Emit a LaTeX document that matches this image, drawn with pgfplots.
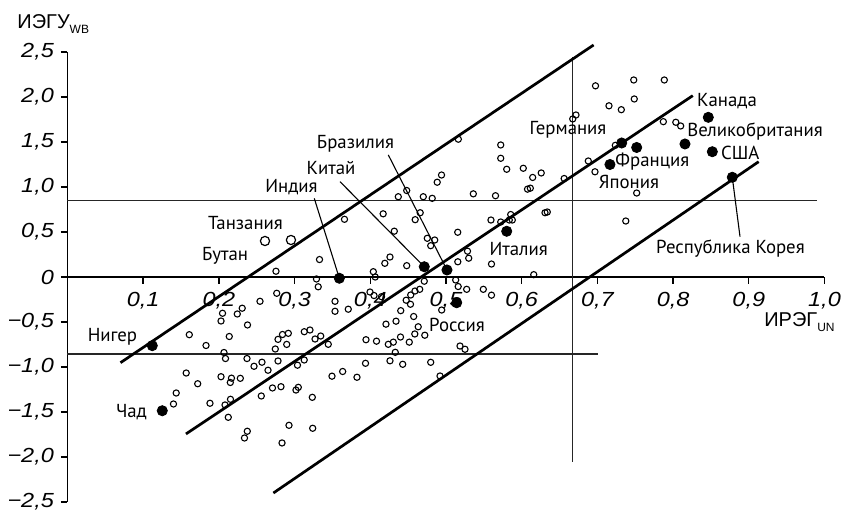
\documentclass[border=0pt]{standalone}
\usepackage{pgfplots}
\pgfplotsset{compat=1.18}
\usepackage{fontspec}
\setmainfont{PT Sans}
\newfontfamily\tickfont{Liberation Sans}[FakeStretch=1.15]
\newfontfamily\axfont{Liberation Sans}
\pgfplotstableread{
x y
0.3234 -1.337
0.3239 -1.681
0.2926 -1.648
0.2834 -1.844
0.2375 -1.714
0.2338 -1.789
0.3018 -1.256
0.3049 -1.226
0.2820 -1.219
0.2708 -1.233
0.2560 -1.322
0.2124 -1.559
0.2081 -1.422
0.2153 -1.359
0.2151 -1.172
0.2028 -1.108
0.2166 -1.124
0.2283 -1.126
0.1882 -1.403
0.1720 -1.186
0.1568 -1.067
0.1436 -1.289
0.1400 -1.411
0.3038 -0.980
0.3127 -0.922
0.2464 -0.992
0.2569 -0.947
0.2649 -1.036
0.2781 -0.933
0.2371 -0.906
0.2087 -0.906
0.2067 -0.839
0.1830 -0.761
0.1609 -0.641
0.2137 -0.661
0.2378 -0.533
0.2028 -0.489
0.2048 -0.403
0.2243 -0.411
0.2308 -0.347
0.2543 -0.270
0.2745 -0.800
0.2781 -0.693
0.2840 -0.639
0.2917 -0.626
0.2896 -0.749
0.3128 -0.608
0.3203 -0.589
0.3270 -0.689
0.3345 -0.656
0.3445 -0.748
0.6975 2.124
0.7480 2.189
0.7884 2.189
0.7487 1.978
0.7153 1.902
0.7316 1.859
0.6674 1.756
0.6717 1.800
0.7871 1.726
0.8036 1.719
0.8100 1.678
0.7237 1.463
0.6880 1.289
0.6968 1.169
0.6561 1.094
0.7519 0.933
0.7375 0.622
0.6021 1.208
0.6145 1.106
0.6258 1.156
0.6077 0.976
0.6114 0.987
0.6308 0.714
0.6338 0.722
0.5163 1.531
0.5723 1.467
0.5723 1.319
0.5802 1.197
0.4941 1.133
0.4884 1.053
0.4481 0.961
0.4370 0.892
0.4700 0.892
0.4818 0.874
0.5361 0.924
0.5654 0.903
0.3659 0.641
0.4170 0.702
0.4659 0.714
0.4593 0.637
0.4317 0.509
0.4753 0.430
0.4851 0.411
0.4798 0.348
0.5155 0.497
0.5594 0.633
0.5723 0.611
0.5836 0.633
0.5876 0.633
0.5855 0.694
0.5284 0.287
0.5300 0.209
0.5156 0.169
0.5601 0.144
0.3329 0.194
0.4260 0.222
0.4192 0.152
0.4481 0.126
0.4040 0.059
0.4065 0.000
0.3289 -0.022
0.3312 -0.109
0.4713 -0.047
0.5128 -0.033
0.5161 -0.106
0.5273 -0.137
0.5493 -0.137
0.5601 -0.202
0.6159 0.026
0.2754 0.064
0.2764 -0.181
0.3534 -0.270
0.3534 -0.381
0.3709 -0.358
0.3996 -0.167
0.4049 -0.206
0.4148 -0.219
0.4534 -0.200
0.4590 -0.156
0.4653 -0.137
0.4474 -0.258
0.4531 -0.303
0.4402 -0.374
0.4573 -0.439
0.4340 -0.491
0.4207 -0.524
0.4633 -0.553
0.4588 -0.633
0.4720 -0.647
0.4399 -0.667
0.4304 -0.724
0.4238 -0.748
0.4515 -0.724
0.4082 -0.713
0.3943 -0.697
0.4330 -0.837
0.4943 -0.367
0.5185 -0.767
0.5251 -0.803
0.3937 -0.959
0.4260 -0.931
0.4428 -0.970
0.4798 -0.948
0.3635 -1.050
0.3494 -1.102
0.3824 -1.114
0.4921 -1.100
}\opendata
\pgfplotstableread{
x y
0.2609 0.400
0.2952 0.411
}\bigopen
\pgfplotstableread{
x y
0.1120 -0.763
0.1252 -1.486
0.3591 -0.014
0.4713 0.114
0.5013 0.078
0.5141 -0.286
0.5802 0.508
0.7321 1.489
0.7519 1.439
0.7166 1.250
0.8157 1.478
0.8465 1.774
0.8518 1.392
0.8782 1.108
}\filled
\begin{document}
\begin{tikzpicture}
\begin{axis}[
  x=378.5pt, y=45pt,
  anchor=origin, at={(0,0)},
  xmin=0, xmax=1, ymin=-2.5, ymax=2.5,
  axis lines=middle,
  axis line style={-, line width=0.7pt, black},
  clip=false,
  xtick={0.1,0.2,0.3,0.4,0.5,0.6,0.7,0.8,0.9,1.0},
  xticklabels={{0,1},{0,2},{0,3},{0,4},{0,5},{0,6},{0,7},{0,8},{0,9},{1,0}},
  ytick={-2.5,-2,-1.5,-1,-0.5,0,0.5,1,1.5,2,2.5},
  yticklabels={{−2,5},{−2,0},{−1,5},{−1,0},{−0,5},{0\hspace{3pt}},{0,5},{1,0},{1,5},{2,0},{2,5}},
  tick align=outside,
  major tick length=3.3pt,
  tick style={black, line width=0.7pt},
  ticklabel style={font=\tickfont\itshape\fontsize{10.2}{11}\selectfont},
  xticklabel style={yshift=-1pt},
  hide obscured x ticks=false, hide obscured y ticks=false,
]
% reference lines
\addplot[line width=0.75pt, black!85, no marks] coordinates {(0,0.85) (0.99,0.85)};
\addplot[line width=0.75pt, black!85, no marks] coordinates {(0,-0.855) (0.701,-0.855)};
\addplot[line width=0.75pt, black!85, no marks] coordinates {(0.667,-2.052) (0.667,2.448)};
% regression lines
\addplot[line width=1.35pt, black, no marks] coordinates {(0.070,-0.952) (0.695,2.578)};
\addplot[line width=1.35pt, black, no marks] coordinates {(0.1565,-1.744) (0.826,2.015)};
\addplot[line width=1.35pt, black, no marks] coordinates {(0.272,-2.40) (0.913,1.281)};
% leader lines
\addplot[line width=0.55pt, black, no marks] coordinates {(0.326,0.874) (0.3591,-0.014)};
\addplot[line width=0.55pt, black, no marks] coordinates {(0.360,1.059) (0.4713,0.114)};
\addplot[line width=0.55pt, black, no marks] coordinates {(0.4238,1.356) (0.5013,0.078)};
\addplot[line width=0.55pt, black, no marks] coordinates {(0.8884,0.448) (0.8782,1.108)};
% points
\addplot[only marks, mark=o, mark size=1.55pt, mark options={line width=0.55pt, fill=white, black}] table {\opendata};
\addplot[only marks, mark=o, mark size=2.3pt, mark options={line width=0.6pt, fill=white, black}] table {\bigopen};
\addplot[only marks, mark=*, mark size=2.55pt, mark options={black}] table {\filled};
% labels
\tikzset{lab/.style={font=\fontsize{9.4}{10}\selectfont, inner sep=0pt}}
\node[lab] at (axis cs:0.2351,0.600) {Танзания};
\node[lab] at (axis cs:0.2081,0.233) {Бутан};
\node[lab] at (axis cs:0.2959,1.003) {Индия};
\node[lab] at (axis cs:0.3481,1.211) {Китай};
\node[lab] at (axis cs:0.3804,1.478) {Бразилия};
\node[lab] at (axis cs:0.6612,1.633) {Германия};
\node[lab] at (axis cs:0.5960,0.311) {Италия};
\node[lab] at (axis cs:0.8712,1.956) {Канада};
\node[lab] at (axis cs:0.9082,1.614) {Великобритания};
\node[lab] at (axis cs:0.8888,1.381) {США};
\node[lab] at (axis cs:0.7726,1.281) {Франция};
\node[lab] at (axis cs:0.7417,1.059) {Япония};
\node[lab] at (axis cs:0.8758,0.311) {Республика Корея};
\node[lab] at (axis cs:0.0594,-0.670) {Нигер};
\node[lab] at (axis cs:0.0845,-1.503) {Чад};
\node[lab] at (axis cs:0.5145,-0.533) {Россия};
\node[anchor=west, inner sep=0pt, font=\axfont\fontsize{10}{11}\selectfont] at (axis cs:0.920,-0.497) {ИРЭГ\raisebox{-0.45ex}{\fontsize{6}{6}\selectfont UN}};
\node[anchor=west, inner sep=0pt, font=\axfont\fontsize{10}{11}\selectfont] at (axis cs:-0.0667,2.811) {ИЭГУ\raisebox{-0.45ex}{\fontsize{6}{6}\selectfont WB}};
\end{axis}
\pgfresetboundingbox
\path[use as bounding box] (-33.75pt,-118pt) rectangle (387.75pt,138.5pt);
\end{tikzpicture}
\end{document}
